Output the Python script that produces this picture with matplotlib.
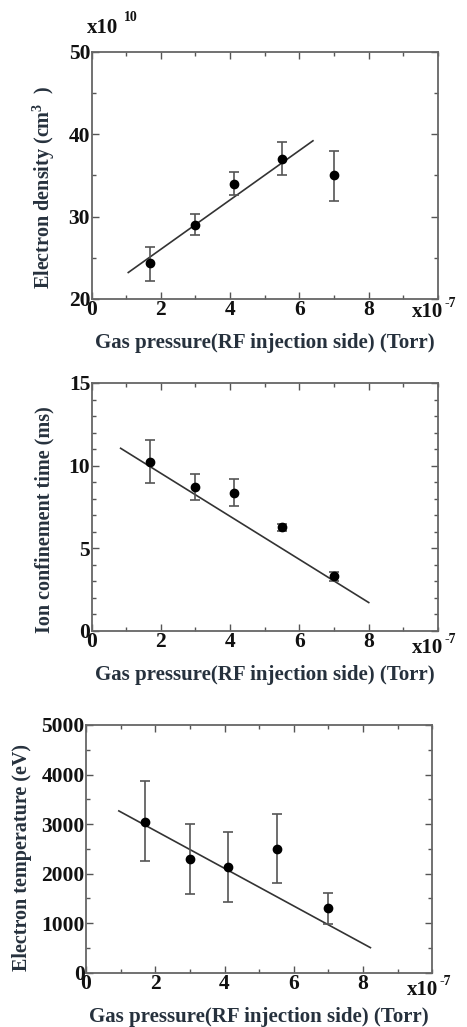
import matplotlib
matplotlib.use("Agg")
import matplotlib.pyplot as plt
from matplotlib.ticker import MultipleLocator

plt.rcParams['font.family'] = ['Liberation Serif', 'DejaVu Serif']
plt.rcParams['font.weight'] = 'bold'
plt.rcParams['axes.labelweight'] = 'bold'
plt.rcParams['mathtext.fontset'] = 'custom'
plt.rcParams['mathtext.rm'] = 'Liberation Serif:bold'
plt.rcParams['mathtext.it'] = 'Liberation Serif:bold'
plt.rcParams['mathtext.bf'] = 'Liberation Serif:bold'

# gas pressure (x1e-7 Torr)
pressure = [1.7, 3.0, 4.1, 5.5, 7.0]

# electron density (x1e10 cm^-3)
density = [24.3, 29.0, 34.0, 37.0, 35.0]
density_lo = [22.2, 27.7, 32.6, 35.0, 31.9]
density_hi = [26.35, 30.35, 35.4, 39.0, 38.0]
density_fit_x = [1.06, 6.39]
density_fit_y = [23.2, 39.2]

# ion confinement time (ms)
tau = [10.25, 8.7, 8.37, 6.27, 3.3]
tau_lo = [8.95, 7.9, 7.55, 6.05, 3.05]
tau_hi = [11.57, 9.5, 9.17, 6.47, 3.55]
tau_fit_x = [0.84, 8.0]
tau_fit_y = [11.05, 1.72]

# electron temperature (eV)
temp = [3050, 2295, 2135, 2500, 1300]
temp_lo = [2255, 1595, 1435, 1810, 990]
temp_hi = [3870, 2995, 2847, 3197, 1608]
temp_fit_x = [0.95, 8.21]
temp_fit_y = [3265, 505]

txt_col = '#26313d'

fig = plt.figure(figsize=(4.67, 10.27), dpi=100)

panels = [
    dict(rect=[0.196, 0.709, 0.742, 0.2405], y=density, lo=density_lo, hi=density_hi,
         fx=density_fit_x, fy=density_fit_y, ylim=(20, 50), major=10, minor=5,
         ylabel='Electron density (cm$^{3}$  )', lab=(-0.10, 0.45), xmul=-0.055),
    dict(rect=[0.196, 0.3856, 0.742, 0.2415], y=tau, lo=tau_lo, hi=tau_hi,
         fx=tau_fit_x, fy=tau_fit_y, ylim=(0, 15), major=5, minor=1,
         ylabel='Ion confinement time (ms)', lab=(-0.106, 0.448), xmul=-0.07),
    dict(rect=[0.184, 0.0529, 0.742, 0.2412], y=temp, lo=temp_lo, hi=temp_hi,
         fx=temp_fit_x, fy=temp_fit_y, ylim=(0, 5000), major=1000, minor=500,
         ylabel='Electron temperature (eV)', lab=(-0.156, 0.465), xmul=-0.07),
]

for i, p in enumerate(panels):
    ax = fig.add_axes(p['rect'])
    yerr = [[v - l for v, l in zip(p['y'], p['lo'])],
            [h - v for v, h in zip(p['y'], p['hi'])]]
    ax.errorbar(pressure, p['y'], yerr=yerr, fmt='o', color='black', ms=6,
                ecolor='#555555', elinewidth=1.2, capsize=3.5, capthick=1.2, zorder=3)
    ax.plot(p['fx'], p['fy'], color='#333333', lw=1.2)

    ax.set_xlim(0, 10)
    ax.set_ylim(*p['ylim'])
    ax.set_xticks([0, 2, 4, 6, 8])
    ax.xaxis.set_minor_locator(MultipleLocator(1))
    ax.yaxis.set_major_locator(MultipleLocator(p['major']))
    ax.yaxis.set_minor_locator(MultipleLocator(p['minor']))
    ax.tick_params(which='both', direction='in', top=True, right=True,
                   color='#555555', width=1.0, labelsize=15.5, labelcolor='#111111', pad=1)
    ax.tick_params(which='major', length=5)
    ax.tick_params(which='minor', length=3)
    for s in ax.spines.values():
        s.set_color('#666666')
        s.set_linewidth(1.3)

    ax.set_xlabel('Gas pressure(RF injection side) (Torr)', fontsize=15,
                  fontweight='bold', color=txt_col, labelpad=9)
    ax.set_ylabel(p['ylabel'], fontsize=14.5, fontweight='bold', color=txt_col)
    ax.yaxis.set_label_coords(*p['lab'])

    # axis multipliers
    ax.text(0.925, p['xmul'], 'x10', transform=ax.transAxes, fontsize=15,
            fontweight='bold', color='#111111', ha='left', va='center')
    ax.text(1.02, p['xmul'] + 0.035, '-7', transform=ax.transAxes, fontsize=10,
            fontweight='bold', color='#111111', ha='left', va='center')
    if i == 0:
        ax.text(-0.012, 1.095, 'x10', transform=ax.transAxes, fontsize=15,
                fontweight='bold', color='#111111', ha='left', va='center')
        ax.text(0.095, 1.14, '10', transform=ax.transAxes, fontsize=10,
                fontweight='bold', color='#111111', ha='left', va='center')

fig.savefig('out.png', dpi=100)
